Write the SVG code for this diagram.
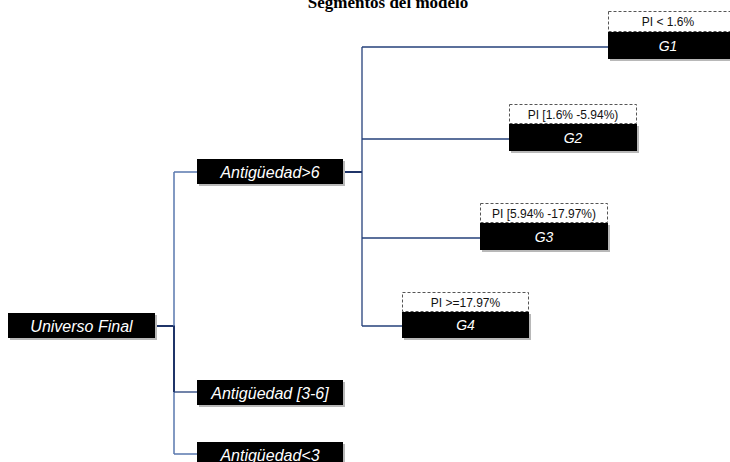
<svg xmlns="http://www.w3.org/2000/svg" width="730" height="462" viewBox="0 0 730 462">
<style>
.box{fill:#000}
.sh{fill:#b8b8b8}
.lbl{font-family:"Liberation Sans",Arial,sans-serif;font-style:italic;fill:#fff;font-size:16px;text-anchor:middle}
.glbl{font-family:"Liberation Sans",Arial,sans-serif;font-style:italic;fill:#fff;font-size:14px;text-anchor:middle}
.pi{fill:#fff;stroke:#555;stroke-width:1;stroke-dasharray:3 2}
.pit{font-family:"Liberation Sans",Arial,sans-serif;fill:#111;font-size:12px;text-anchor:middle}
.dk{stroke:#1F3468;fill:none;stroke-width:2}
.md{stroke:#25407A;fill:none;stroke-width:1.3}
.lt{stroke:#5877AE;fill:none;stroke-width:1.5}
</style>
<text x="388" y="8" font-family="'Liberation Serif','Times New Roman',serif" font-weight="bold" font-size="17" text-anchor="middle" fill="#000">Segmentos del modelo</text>
<g id="connectors">
<line class="dk" x1="155" y1="326" x2="175" y2="326"/>
<line class="lt" x1="174" y1="172" x2="174" y2="326"/>
<line class="dk" x1="174" y1="326" x2="174" y2="392"/>
<line class="lt" x1="174" y1="392" x2="174" y2="454"/>
<line class="lt" x1="174" y1="172" x2="197" y2="172"/>
<line class="md" x1="174" y1="392" x2="197" y2="392"/>
<line class="lt" x1="174" y1="454" x2="197" y2="454"/>
<line class="dk" x1="343" y1="172" x2="362" y2="172" stroke-width="2.5"/>
<line class="md" x1="362" y1="47" x2="362" y2="326"/>
<line class="md" x1="362" y1="47" x2="608" y2="47"/>
<line class="md" x1="362" y1="139" x2="509" y2="139" stroke="#4A67A0"/>
<line class="md" x1="362" y1="238" x2="480" y2="238"/>
<line class="md" x1="362" y1="326" x2="402" y2="326" stroke="#4A67A0"/>
</g>
<g id="universo">
<rect class="sh" x="10" y="315" width="147" height="25"/>
<rect class="box" x="8" y="313" width="147" height="25"/>
<text class="lbl" x="81.5" y="331.5">Universo Final</text>
</g>
<g id="ant6">
<rect class="sh" x="199" y="161" width="146" height="25"/>
<rect class="box" x="197" y="159" width="146" height="25"/>
<text class="lbl" x="270" y="177.5">Antigüedad&gt;6</text>
</g>
<g id="ant36">
<rect class="sh" x="199" y="382" width="146" height="25"/>
<rect class="box" x="197" y="380" width="146" height="25"/>
<text class="lbl" x="270" y="398.5">Antigüedad [3-6]</text>
</g>
<g id="ant3">
<rect class="sh" x="199" y="444" width="146" height="25"/>
<rect class="box" x="197" y="442" width="146" height="25"/>
<text class="lbl" x="270" y="460.5">Antigüedad&lt;3</text>
</g>
<g id="g1">
<rect class="sh" x="610" y="34" width="124" height="27"/>
<rect class="pi" x="608.5" y="11.5" width="124" height="20"/>
<text class="pit" x="668" y="26">PI &lt; 1.6%</text>
<rect class="box" x="608" y="32" width="124" height="27"/>
<text class="glbl" x="668" y="50.5">G1</text>
</g>
<g id="g2">
<rect class="sh" x="511" y="126" width="128" height="27"/>
<rect class="pi" x="509.5" y="104.5" width="127" height="19"/>
<text class="pit" x="573" y="118.5">PI [1.6% -5.94%)</text>
<rect class="box" x="509" y="124" width="128" height="27"/>
<text class="glbl" x="573" y="142.5">G2</text>
</g>
<g id="g3">
<rect class="sh" x="482" y="225" width="128" height="27"/>
<rect class="pi" x="480.5" y="203.5" width="127" height="19"/>
<text class="pit" x="544" y="217.5">PI [5.94% -17.97%)</text>
<rect class="box" x="480" y="223" width="128" height="27"/>
<text class="glbl" x="544" y="241.5">G3</text>
</g>
<g id="g4">
<rect class="sh" x="404" y="314" width="127" height="26"/>
<rect class="pi" x="402.5" y="292.5" width="126" height="19"/>
<text class="pit" x="465.5" y="306.5">PI &gt;=17.97%</text>
<rect class="box" x="402" y="312" width="127" height="26"/>
<text class="glbl" x="465.5" y="330">G4</text>
</g>
</svg>
